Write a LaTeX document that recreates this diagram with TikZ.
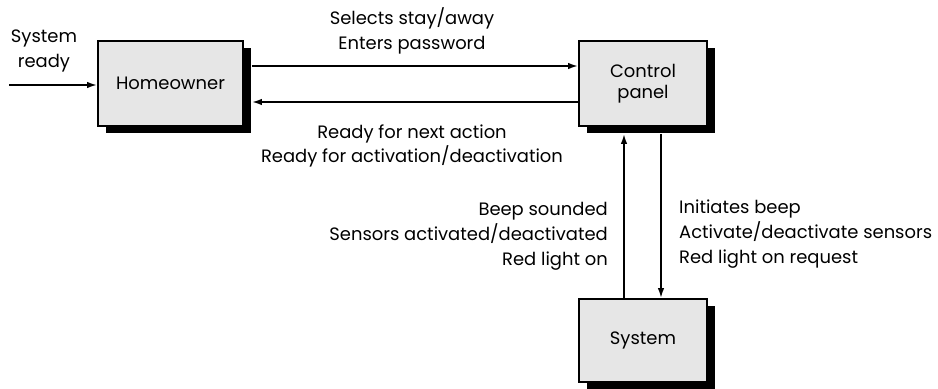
\documentclass[tikz,border=0pt]{standalone}
\usepackage{fontspec}
\setmainfont{Poppins}
\usetikzlibrary{arrows.meta,shadows,calc}
\definecolor{boxgray}{HTML}{E6E6E6}
\begin{document}
\begin{tikzpicture}[x=1bp,y=-1bp,
  entity/.style={draw=black,line width=1.8bp,fill=boxgray,inner sep=0pt,align=center,
    font=\fontsize{18}{21}\selectfont,
    drop shadow={shadow xshift=8bp,shadow yshift=-7bp,fill=black,opacity=1}},
  arr/.style={line width=1.8bp,-{Latex[length=10bp,width=6.5bp]}},
  lbl/.style={inner sep=0pt,font=\fontsize{18}{25}\selectfont}]
\useasboundingbox (0,0) rectangle (938,388);
\node[entity,minimum width=145bp,minimum height=85bp] (Home) at (170.5,83.5) {Homeowner};
\node[entity,minimum width=128bp,minimum height=85bp] (Control) at (643,83.5) {Control\\panel};
\node[entity,minimum width=128bp,minimum height=83bp] (Sys) at (643,340.5) {System};
\coordinate (start) at (9,85);
\draw[arr] (start) -- (start -| Home.west);
\draw[arr] ([shift={(8,-17.5)}]Home.east) -- ([shift={(0,-17.5)}]Control.west);
\draw[arr] ([shift={(0,18.5)}]Control.west) -- ([shift={(8,18.5)}]Home.east);
\draw[arr] ([shift={(-19,0)}]Sys.north) -- ([shift={(-19,7)}]Control.south);
\draw[arr] ([shift={(18,7)}]Control.south) -- ([shift={(18,0)}]Sys.north);
\node[lbl,align=center] (l0) at (44,51) {System\\ready};
\node[lbl,align=center] (l1) at (412,31) {Selects stay/away\\Enters password};
\node[lbl,align=center] (l2) at (412,146) {Ready for next action\\Ready for activation/deactivation};
\node[lbl,align=right,anchor=east] (l3) at (608,236) {Beep sounded\\Sensors activated/deactivated\\Red light on};
\node[lbl,align=left,anchor=west] (l4) at (679,234) {Initiates beep\\Activate/deactivate sensors\\Red light on request};
\end{tikzpicture}
\end{document}
